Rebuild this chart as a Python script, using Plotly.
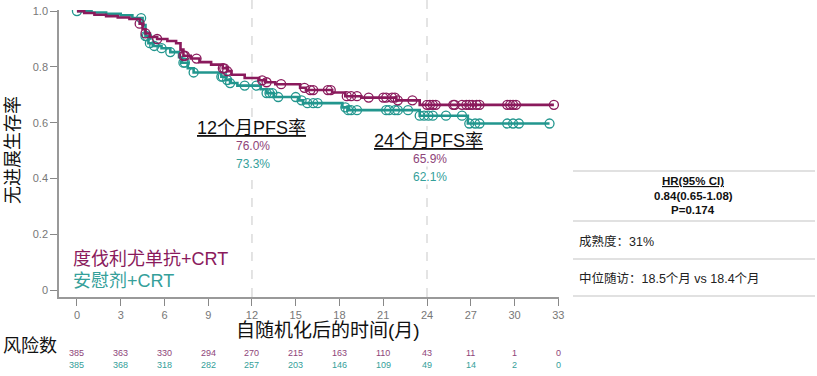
import plotly.graph_objects as go
import numpy as np

# ---------------- data ----------------
# Kaplan-Meier step points (time in months, survival after the step)
durva_t = [0, 0.5, 1.2, 2.0, 2.8, 3.6, 4.3, 4.5, 4.7, 5.0, 5.5, 6.2, 6.8, 7.1, 7.3, 7.8, 8.4, 9.2,
           10.0, 10.3, 10.6, 11.5, 12.5, 12.9, 13.6, 15.3, 15.7, 17.5, 18.4, 19.5, 21.9, 23.5]
durva_s = [1.0, 0.993, 0.987, 0.982, 0.977, 0.972, 0.955, 0.935, 0.92, 0.907, 0.90, 0.893, 0.885, 0.862,
           0.84, 0.83, 0.817, 0.808, 0.795, 0.785, 0.772, 0.76, 0.752, 0.745, 0.738, 0.725, 0.717,
           0.708, 0.695, 0.69, 0.68, 0.664]
durva_cens = [4.3, 4.7, 5.5, 7.3, 7.4, 8.2, 10.0, 10.1, 10.3, 12.7, 13.0, 14.0, 15.6, 16.0, 16.2,
              17.2, 17.4, 18.5, 18.8, 19.2, 20.0, 21.0, 21.2, 21.6, 21.8, 22.0, 23.0, 24.0, 24.2,
              24.4, 24.6, 25.8, 25.9, 26.4, 26.7, 26.9, 27.1, 27.4, 27.6, 29.5, 29.7, 29.9, 30.1, 32.7]

plac_t = [0, 1.0, 2.0, 3.0, 3.8, 4.5, 4.7, 4.9, 5.2, 5.8, 6.4, 7.0, 7.2, 7.6, 8.0, 9.9, 10.2, 10.5,
          11.0, 12.6, 13.0, 13.5, 15.2, 15.5, 18.2, 18.6, 23.5, 26.8]
plac_s = [1.0, 0.995, 0.99, 0.985, 0.975, 0.95, 0.91, 0.885, 0.875, 0.867, 0.853, 0.835, 0.815, 0.795,
          0.78, 0.765, 0.753, 0.742, 0.733, 0.72, 0.706, 0.692, 0.68, 0.67, 0.655, 0.645, 0.625, 0.597]
plac_cens = [0, 4.4, 4.7, 4.8, 5.0, 5.3, 5.8, 6.4, 7.3, 7.4, 8.0, 9.9, 10.0, 10.3, 10.5, 11.5, 12.3,
             13.0, 13.2, 13.4, 13.8, 15.0, 15.4, 15.8, 16.2, 16.5, 18.4, 18.6, 18.8, 19.2, 21.2,
             21.4, 21.8, 22.0, 22.7, 23.5, 23.8, 24.1, 24.4, 25.3, 26.4, 26.9, 27.3, 27.6, 29.5,
             29.9, 30.3, 32.4]

x_ticks = [0, 3, 6, 9, 12, 15, 18, 21, 24, 27, 30, 33]
y_ticks = [0, 0.2, 0.4, 0.6, 0.8, 1.0]
y_ticktext = ["0", "0.2", "0.4", "0.6", "0.8", "1.0"]
risk_durva = [385, 363, 330, 294, 270, 215, 163, 110, 43, 11, 1, 0]
risk_plac = [385, 368, 318, 282, 257, 203, 146, 109, 49, 14, 2, 0]

arm_names = ["度伐利尤单抗+CRT", "安慰剂+CRT"]
pfs12 = ["76.0%", "73.3%"]
pfs24 = ["65.9%", "62.1%"]

# ---------------- style ----------------
PURPLE = "#8A1A5C"
TEAL = "#22968E"
PURPLE_TXT = "#8E4479"
TEAL_TXT = "#35A09A"
FONT = "Liberation Sans, Arial, Noto Sans CJK SC"
W, H = 817, 376


def px_x(p):
    return p / W


def px_y(p):
    return 1 - p / H


def step_value(ts, ss, t):
    idx = np.searchsorted(np.array(ts), t, side="right") - 1
    return ss[max(idx, 0)]


fig = go.Figure()

for ts, ss, cens, col in [(plac_t, plac_s, plac_cens, TEAL), (durva_t, durva_s, durva_cens, PURPLE)]:
    xs = list(ts) + [max(cens)]
    ys = list(ss) + [ss[-1]]
    fig.add_trace(go.Scatter(x=xs, y=ys, mode="lines", line=dict(color=col, width=2.6, shape="hv"),
                             showlegend=False, hoverinfo="skip"))
    cy = [step_value(ts, ss, c) for c in cens]
    fig.add_trace(go.Scatter(x=cens, y=cy, mode="markers",
                             marker=dict(symbol="circle-open", size=9, color=col, line=dict(width=1.3)),
                             showlegend=False, hoverinfo="skip"))

x0_px, x1_px = 59, 559
y_top_px, y_bot_px = 10, 297

fig.update_layout(
    template="none",
    width=W, height=H,
    margin=dict(l=0, r=0, t=0, b=0, autoexpand=False),
    paper_bgcolor="white", plot_bgcolor="white",
    font=dict(family=FONT, color="#000"),
    xaxis=dict(domain=[px_x(x0_px), px_x(x1_px)], range=[-1.23, 33.05], automargin=False,
               tickvals=x_ticks, ticks="outside", ticklen=7, tickcolor="#888", tickwidth=1.2,
               showline=True, linecolor="#999", linewidth=1.6, showgrid=False, zeroline=False,
               tickfont=dict(size=11, color="#777", family=FONT)),
    yaxis=dict(domain=[px_y(y_bot_px), px_y(y_top_px)], range=[-0.025, 1.004], automargin=False,
               tickvals=y_ticks, ticktext=y_ticktext, ticks="outside", ticklen=7, tickcolor="#888",
               tickwidth=1.2, showline=True, linecolor="#999", linewidth=1.6, showgrid=False,
               zeroline=False, tickfont=dict(size=11, color="#777", family=FONT)),
)

# dashed reference lines at 12 and 24 months
for t in [12, 24]:
    fig.add_shape(type="line", xref="x", yref="paper", x0=t, x1=t, y0=px_y(y_bot_px), y1=px_y(0),
                  line=dict(color="#d2d2d2", width=1.2, dash="dash"), layer="below")

ann = []


def A(text, x, y, size, color="#111", xref="paper", xanchor="center", **kw):
    d = dict(text=text, x=x, y=px_y(y), xref=xref, yref="paper", xanchor=xanchor, yanchor="middle",
             showarrow=False, font=dict(size=size, family=FONT, color=color))
    d.update(kw)
    ann.append(d)


# axis titles
A("无进展生存率", px_x(13), 150, 18, textangle=-90)
A("自随机化后的时间(月)", px_x(328), 330, 19)
A("风险数", px_x(1), 346, 18, xanchor="left")

# PFS annotations
A("<u>12个月PFS率</u>", 12, 128, 18, xref="x", bgcolor="white", borderpad=0)
A(pfs12[0], 12.1, 146, 12, color=PURPLE_TXT, xref="x", bgcolor="white", borderpad=0)
A(pfs12[1], 12.1, 164, 12, color=TEAL_TXT, xref="x", bgcolor="white", borderpad=0)
A("<u>24个月PFS率</u>", 24.1, 141, 18, xref="x", bgcolor="white", borderpad=0)
A(pfs24[0], 24.2, 159, 12, color=PURPLE_TXT, xref="x", bgcolor="white", borderpad=0)
A(pfs24[1], 24.2, 177, 12, color=TEAL_TXT, xref="x", bgcolor="white", borderpad=0)

# legend text
A(arm_names[0], px_x(71), 259, 18, color=PURPLE, xanchor="left")
A(arm_names[1], px_x(71), 281, 18, color=TEAL_TXT, xanchor="left")

# risk table
for t, a, b in zip(x_ticks, risk_durva, risk_plac):
    A(str(a), t, 353, 9, color=PURPLE_TXT, xref="x")
    A(str(b), t, 365, 9, color=TEAL_TXT, xref="x")

# right-hand stats box
for yy in [171, 221, 259, 296]:
    fig.add_shape(type="line", xref="paper", yref="paper", x0=px_x(573), x1=px_x(815),
                  y0=px_y(yy), y1=px_y(yy), line=dict(color="#c4c4c4", width=1.2))
A("<b><u>HR(95% CI)</u></b>", px_x(693), 181, 11.5)
A("<b>0.84(0.65-1.08)</b>", px_x(693), 196, 11.5)
A("<b>P=0.174</b>", px_x(693), 210, 11.5)
A("成熟度：31%", px_x(577), 241, 12.5, color="#222", xanchor="left")
A("中位随访：18.5个月 vs 18.4个月", px_x(577), 278, 12.5, color="#222", xanchor="left")

fig.update_layout(annotations=ann)
fig.write_html("out.html", config={"displayModeBar": False},
               post_script="document.body.style.margin='0';document.body.style.overflow='hidden';")
